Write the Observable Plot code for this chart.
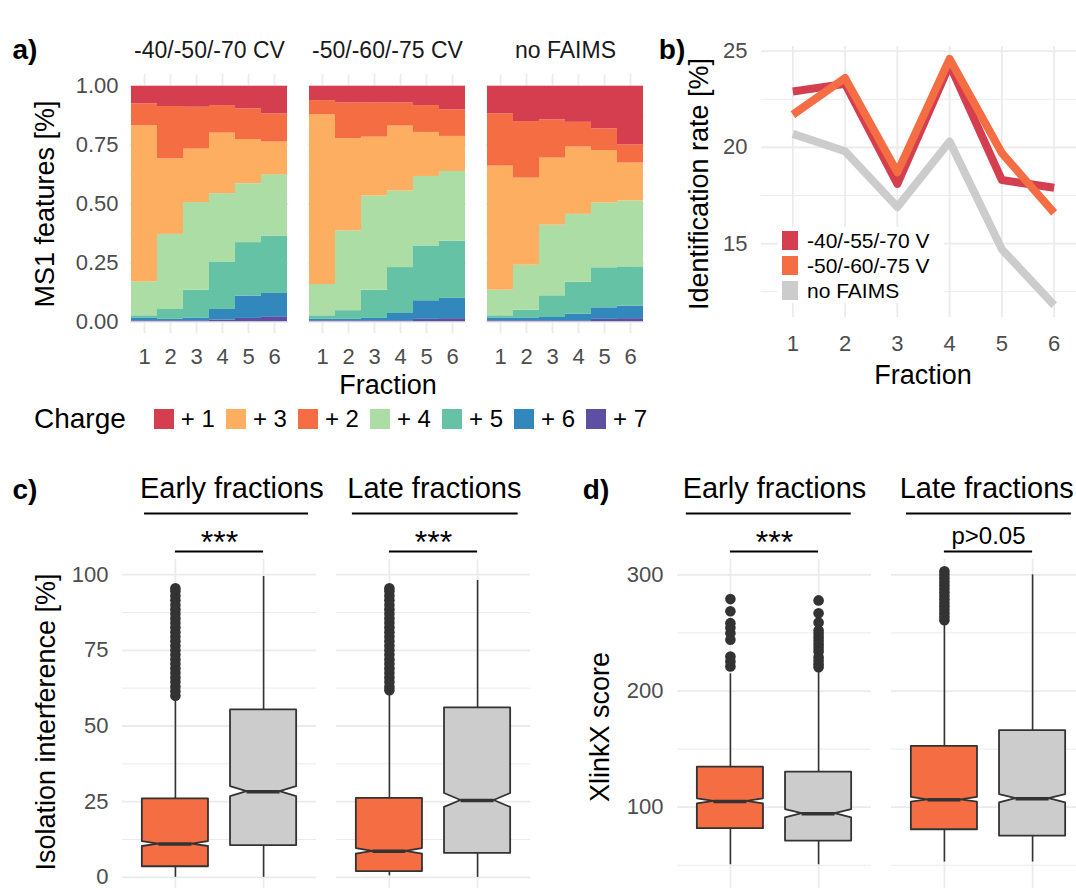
<!DOCTYPE html>
<html><head><meta charset="utf-8">
<script src="https://cdn.jsdelivr.net/npm/d3@7"></script>
<script src="https://cdn.jsdelivr.net/npm/@observablehq/plot@0.6"></script>
<style>
body{margin:0;background:#fff;}
#fig{position:relative;width:1076px;height:888px;overflow:hidden;background:#fff;font-family:"Liberation Sans",Arial,Helvetica,sans-serif;color:#000;}
.t{position:absolute;white-space:nowrap;line-height:1;}
</style></head><body><div id="fig"></div>
<script>
// ---------------- DATA ----------------
// a) share of MS1 features by charge state; rows = charge +1..+7, columns = fraction 1..6
const fractions = [1, 2, 3, 4, 5, 6];
const conditionsA = ["-40/-50/-70 CV", "-50/-60/-75 CV", "no FAIMS"];
const charges = ["+ 1", "+ 2", "+ 3", "+ 4", "+ 5", "+ 6", "+ 7"];
const chargeColors = ["#D53E4F", "#F46D43", "#FDAE61", "#ABDDA4", "#66C2A5", "#3288BD", "#5E4FA2"];
const legendOrderA = ["+ 1", "+ 3", "+ 2", "+ 4", "+ 5", "+ 6", "+ 7"];
const shareCV1 = [
  [0.075, 0.086, 0.089, 0.082, 0.096, 0.117],
  [0.092, 0.222, 0.178, 0.117, 0.131, 0.120],
  [0.664, 0.321, 0.227, 0.257, 0.187, 0.139],
  [0.144, 0.319, 0.372, 0.290, 0.250, 0.260],
  [0.011, 0.042, 0.118, 0.202, 0.227, 0.244],
  [0.010, 0.006, 0.012, 0.045, 0.095, 0.099],
  [0.004, 0.004, 0.004, 0.007, 0.014, 0.021]
];
const shareCV2 = [
  [0.061, 0.071, 0.071, 0.071, 0.082, 0.100],
  [0.059, 0.152, 0.145, 0.098, 0.114, 0.113],
  [0.722, 0.391, 0.250, 0.276, 0.187, 0.149],
  [0.133, 0.339, 0.400, 0.325, 0.295, 0.296],
  [0.015, 0.037, 0.120, 0.195, 0.233, 0.243],
  [0.006, 0.006, 0.010, 0.031, 0.079, 0.086],
  [0.004, 0.004, 0.004, 0.004, 0.010, 0.013]
];
const shareNoFAIMS = [
  [0.117, 0.150, 0.143, 0.153, 0.181, 0.249],
  [0.222, 0.240, 0.162, 0.105, 0.092, 0.077],
  [0.527, 0.370, 0.285, 0.286, 0.223, 0.161],
  [0.109, 0.191, 0.300, 0.288, 0.275, 0.280],
  [0.011, 0.035, 0.092, 0.136, 0.170, 0.167],
  [0.010, 0.010, 0.014, 0.028, 0.049, 0.053],
  [0.004, 0.004, 0.004, 0.004, 0.010, 0.013]
];
const yTicksA = [0, 0.25, 0.5, 0.75, 1];

// b) identification rate [%]
const seriesB = ["-40/-55/-70 V", "-50/-60/-75 V", "no FAIMS"];
const colorsB = ["#D53E4F", "#F46D43", "#CCCCCC"];
const rateCV1 = [22.9, 23.3, 18.1, 24.3, 18.3, 17.9];
const rateCV2 = [21.7, 23.6, 18.7, 24.6, 19.7, 16.6];
const rateNoFAIMS = [20.7, 19.8, 16.9, 20.3, 14.7, 11.8];
const yTicksB = [15, 20, 25];

// c) / d) box plots
const boxFacets = ["Early fractions", "Early fractions", "Late fractions", "Late fractions"];
const boxSetups = ["FAIMS", "no FAIMS", "FAIMS", "no FAIMS"];
const stripLabels = ["Early fractions", "Late fractions"];
// c) Isolation interference [%]
const isoLow   = [0, 0, 0.5, 0];
const isoQ1    = [3.5, 10.5, 1.9, 7.9];
const isoMed   = [11.0, 28.3, 8.6, 25.4];
const isoQ3    = [25.9, 55.3, 26.1, 56.0];
const isoHigh  = [59.0, 99.4, 61.2, 98.1];
const isoNotch = [0.8, 1.65, 0.9, 2.3];
const isoOutEarlyFAIMS = [60, 61.5, 63, 64.5, 66, 67.5, 69, 70.5, 72, 73.5, 75, 76.5, 78, 79.5, 81, 82.5, 84, 85.5, 87, 88.5, 90, 91.5, 93, 94.5, 95.5];
const isoOutLateFAIMS  = [61.8, 63, 64.5, 66, 67.5, 69, 70.5, 72, 73.5, 75, 76.5, 78, 79.5, 81, 82.5, 84, 85.5, 87, 88.5, 90, 91.5, 93, 94.5, 95.5];
const isoSignif = ["***", "***"];
const yTicksC = [0, 25, 50, 75, 100];
const yMinorC = [12.5, 37.5, 62.5, 87.5];
// d) XlinkX score
const xlLow   = [50.5, 50.5, 52.8, 52.8];
const xlQ1    = [81.5, 70.9, 80.6, 75.2];
const xlMed   = [105.0, 94.4, 106.4, 107.3];
const xlQ3    = [134.5, 130.2, 152.3, 166.0];
const xlHigh  = [214.8, 216.0, 259.0, 300.0];
const xlNotch = [2.2, 3.6, 2.0, 3.6];
const xlOutEarlyFAIMS   = [279.1, 268.7, 258.4, 254.4, 249.8, 244.1, 229.7, 225.4, 221.1];
const xlOutEarlyNoFAIMS = [278, 267, 259, 252, 249, 246, 243, 240, 237, 234, 229, 226, 223, 220.5];
const xlOutLateFAIMS    = [303, 300, 297, 294, 291, 288, 285, 282, 279, 276, 273, 270, 267, 264, 261];
const xlSignif = ["***", "p>0.05"];
const yTicksD = [100, 200, 300];
const yMinorD = [50, 150, 250];

// ---------------- HELPERS ----------------
const FONT = '"Liberation Sans", Arial, Helvetica, sans-serif';
const fig = document.getElementById("fig");
function place(node, left, top, w, h) {
  const d = document.createElement("div");
  d.style.cssText = `position:absolute;left:${left}px;top:${top}px;width:${w}px;height:${h}px;`;
  d.appendChild(node); fig.appendChild(d);
}
function label(text, x, y, size, opts = {}) {
  const d = document.createElement("div");
  d.className = "t";
  d.textContent = text;
  d.style.left = x + "px"; d.style.top = y + "px"; d.style.fontSize = size + "px";
  d.style.transform = opts.rotate ? "translate(-50%,-50%) rotate(-90deg)" : "translate(-50%,-50%)";
  if (opts.bold) d.style.fontWeight = "bold";
  fig.appendChild(d);
}
const svgStyle = {fontFamily: FONT, fontSize: "22px", color: "#4D4D4D", background: "transparent", maxWidth: "none", overflow: "visible"};
const GRID = "#EBEBEB";

// ---------------- PANEL a ----------------
const sharesA = [shareCV1, shareCV2, shareNoFAIMS];
const tableA = [];
conditionsA.forEach((cond, ci) => {
  for (let j = charges.length - 1; j >= 0; j--) {
    fractions.forEach((f, k) => tableA.push({condition: cond, charge: charges[j], fraction: f, share: sharesA[ci][j][k]}));
  }
});
const plotA = Plot.plot({
  width: 660, height: 400,
  marginLeft: 130, marginRight: 15, marginTop: 74, marginBottom: 67,
  style: svgStyle,
  fx: {domain: conditionsA, paddingInner: 0.112, paddingOuter: 0, label: null},
  x: {type: "band", domain: fractions, padding: 0, label: null},
  y: {domain: [-0.05, 1.05], label: null},
  color: {domain: charges, range: chargeColors},
  marks: [
    Plot.gridY([0.125, 0.375, 0.625, 0.875], {stroke: GRID, strokeOpacity: 1, strokeWidth: 1}),
    Plot.gridY(yTicksA, {stroke: GRID, strokeOpacity: 1, strokeWidth: 1.8}),
    Plot.gridX(fractions, {stroke: GRID, strokeOpacity: 1, strokeWidth: 1.8}),
    Plot.barY(tableA, {fx: "condition", x: "fraction", y: "share", fill: "charge"}),
    Plot.axisY({ticks: yTicksA, tickFormat: d3.format(".2f"), tickSize: 0, tickPadding: 12, label: null}),
    Plot.axisX({tickSize: 0, tickPadding: 15, label: null}),
    Plot.axisFx({anchor: "top", tickSize: 0, tickPadding: 17, fontSize: 23, color: "#1A1A1A", label: null})
  ]
});
place(plotA, 0, 0, 660, 400);
label("a)", 25, 50, 28, {bold: true});
label("MS1 features [%]", 45, 204, 27, {rotate: true});
label("Fraction", 388, 385, 27);
// legend a
const legA = document.createElement("div");
legA.style.cssText = "position:absolute;left:34px;top:419px;transform:translateY(-50%);display:flex;align-items:center;white-space:nowrap;line-height:1;";
const legTitle = document.createElement("span");
legTitle.textContent = "Charge"; legTitle.style.cssText = "font-size:28px;margin-right:28px;";
legA.appendChild(legTitle);
legendOrderA.forEach(c => {
  const sw = document.createElement("span");
  sw.style.cssText = `display:inline-block;width:20px;height:20px;background:${chargeColors[charges.indexOf(c)]};margin-right:7px;`;
  const tx = document.createElement("span");
  tx.textContent = c; tx.style.cssText = "font-size:24px;margin-right:11px;";
  legA.appendChild(sw); legA.appendChild(tx);
});
fig.appendChild(legA);

// ---------------- PANEL b ----------------
const ratesB = [rateCV1, rateCV2, rateNoFAIMS];
const plotB = Plot.plot({
  width: 445, height: 400,
  marginLeft: 121, marginRight: 0, marginTop: 46, marginBottom: 83,
  style: svgStyle,
  x: {domain: [0.4, 6.6], label: null},
  y: {domain: [11.16, 25.24], label: null},
  marks: [
    Plot.gridY([12.5, 17.5, 22.5], {stroke: GRID, strokeOpacity: 1, strokeWidth: 1}),
    Plot.gridY(yTicksB, {stroke: GRID, strokeOpacity: 1, strokeWidth: 1.8}),
    Plot.gridX(fractions, {stroke: GRID, strokeOpacity: 1, strokeWidth: 1.8}),
    ...ratesB.map((r, i) => Plot.lineY(fractions.map((f, k) => ({fraction: f, rate: r[k]})),
      {x: "fraction", y: "rate", stroke: colorsB[i], strokeWidth: 8, strokeLinejoin: "round", strokeLinecap: "butt"})),
    Plot.axisY({ticks: yTicksB, tickFormat: d3.format("d"), tickSize: 0, tickPadding: 14, label: null}),
    Plot.axisX({ticks: fractions, tickFormat: d3.format("d"), tickSize: 0, tickPadding: 18, label: null})
  ]
});
place(plotB, 640, 0, 445, 400);
label("b)", 672, 50, 28, {bold: true});
label("Identification rate [%]", 699, 184, 27, {rotate: true});
label("Fraction", 923, 375, 27);
// legend b
const legB = document.createElement("div");
legB.style.cssText = "position:absolute;left:778px;top:227px;width:166px;height:76px;background:#fff;";
seriesB.forEach((s, i) => {
  const row = document.createElement("div");
  row.style.cssText = `position:absolute;left:4px;top:${3 + i * 25}px;height:20px;display:flex;align-items:center;white-space:nowrap;line-height:1;`;
  const sw = document.createElement("span");
  sw.style.cssText = `display:inline-block;width:16px;height:19px;background:${colorsB[i]};margin-right:9px;`;
  const tx = document.createElement("span");
  tx.textContent = s; tx.style.cssText = "font-size:21px;";
  row.appendChild(sw); row.appendChild(tx); legB.appendChild(row);
});
fig.appendChild(legB);

// ---------------- PANELS c, d ----------------
const setupPos = {"FAIMS": 1, "no FAIMS": 2};
const setupFill = {"FAIMS": "#F46D43", "no FAIMS": "#CCCCCC"};
function boxPlot(cfg) {
  const W = 0.375;
  const stats = boxFacets.map((f, i) => ({
    facet: f, setup: boxSetups[i], pos: setupPos[boxSetups[i]],
    lo: cfg.lo[i], q1: cfg.q1[i], med: cfg.med[i], q3: cfg.q3[i], hi: cfg.hi[i], n: cfg.notch[i]
  }));
  const poly = stats.flatMap((s, i) => [
    {k: i, facet: s.facet, setup: s.setup, y: s.q1, x1: s.pos - W, x2: s.pos + W},
    {k: i, facet: s.facet, setup: s.setup, y: s.med - s.n, x1: s.pos - W, x2: s.pos + W},
    {k: i, facet: s.facet, setup: s.setup, y: s.med, x1: s.pos - W / 2, x2: s.pos + W / 2},
    {k: i, facet: s.facet, setup: s.setup, y: s.med + s.n, x1: s.pos - W, x2: s.pos + W},
    {k: i, facet: s.facet, setup: s.setup, y: s.q3, x1: s.pos - W, x2: s.pos + W}
  ]);
  const outs = cfg.outliers.flatMap(o => o.values.map(v => ({facet: o.facet, pos: setupPos[o.setup], v})));
  const sig = stripLabels.map((f, i) => ({facet: f, text: cfg.signif[i], a: 1, b: 2}));
  const stars = sig.filter(d => d.text === "***");
  const pvals = sig.filter(d => d.text !== "***");
  // strip layout (text centre and underline extent, in panel x units)
  const strips = stripLabels.map((f, i) => ({facet: f, cx: cfg.stripAt[i][0], from: cfg.stripAt[i][1], to: cfg.stripAt[i][2]}));
  const yTop = cfg.yDomain[1];
  const ink = "#333333";
  return Plot.plot({
    width: cfg.width, height: 430,
    marginLeft: cfg.mL, marginRight: cfg.mR, marginTop: 89, marginBottom: 8,
    style: svgStyle,
    fx: {domain: stripLabels, paddingInner: cfg.pad, paddingOuter: 0, axis: null},
    x: {domain: [0.4, 2.6], axis: null},
    y: {domain: cfg.yDomain, label: null},
    marks: [
      Plot.gridY(cfg.minor, {stroke: GRID, strokeOpacity: 1, strokeWidth: 1}),
      Plot.gridY(cfg.ticks, {stroke: GRID, strokeOpacity: 1, strokeWidth: 1.8}),
      Plot.gridX([1, 2], {stroke: GRID, strokeOpacity: 1, strokeWidth: 1.8}),
      Plot.ruleX(stats, {fx: "facet", x: "pos", y1: "lo", y2: "q1", stroke: ink, strokeWidth: 1.6}),
      Plot.ruleX(stats, {fx: "facet", x: "pos", y1: "q3", y2: "hi", stroke: ink, strokeWidth: 1.6}),
      Plot.dot(outs, {fx: "facet", x: "pos", y: "v", r: 5.3, fill: ink, stroke: "none"}),
      ...["FAIMS", "no FAIMS"].map(su => Plot.areaX(poly.filter(d => d.setup === su),
        {fx: "facet", y: "y", x1: "x1", x2: "x2", z: "k", fill: setupFill[su], stroke: ink, strokeWidth: 1.8})),
      Plot.ruleY(stats, {fx: "facet", y: "med", x1: d => d.pos - W / 2, x2: d => d.pos + W / 2, stroke: ink, strokeWidth: 3.5}),
      Plot.axisY({ticks: cfg.ticks, tickSize: 0, tickPadding: 14, label: null}),
      // significance brackets
      Plot.ruleY(sig, {fx: "facet", y: yTop, x1: "a", x2: "b", dy: -8, stroke: "#000", strokeWidth: 2}),
      Plot.text(stars, {fx: "facet", x: 1.5, y: yTop, text: "text", dy: -7, lineAnchor: "bottom", fontSize: 32, fill: "#000"}),
      Plot.text(pvals, {fx: "facet", x: 1.5, y: yTop, text: "text", dy: -16, lineAnchor: "bottom", fontSize: 24, fill: "#000"}),
      // strip labels with underline
      Plot.text(strips, {fx: "facet", x: "cx", y: yTop, text: "facet", dy: -71, lineAnchor: "middle", fontSize: 29, fill: "#000"}),
      Plot.ruleY(strips, {fx: "facet", y: yTop, x1: "from", x2: "to", dy: -46, stroke: "#000", strokeWidth: 2})
    ]
  });
}
const plotC = boxPlot({
  width: 540, mL: 121, mR: 9, pad: 0.093,
  yDomain: [-5, 105], ticks: yTicksC, minor: yMinorC,
  lo: isoLow, q1: isoQ1, med: isoMed, q3: isoQ3, hi: isoHigh, notch: isoNotch,
  outliers: [{facet: "Early fractions", setup: "FAIMS", values: isoOutEarlyFAIMS},
             {facet: "Late fractions", setup: "FAIMS", values: isoOutLateFAIMS}],
  signif: isoSignif, stripAt: [[1.64, 0.65, 2.51], [1.51, 0.58, 2.46]]
});
place(plotC, 0, 470, 540, 430);
const plotD = boxPlot({
  width: 526, mL: 116, mR: 0, pad: 0.093,
  yDomain: [26.6, 313.2], ticks: yTicksD, minor: yMinorD,
  lo: xlLow, q1: xlQ1, med: xlMed, q3: xlQ3, hi: xlHigh, notch: xlNotch,
  outliers: [{facet: "Early fractions", setup: "FAIMS", values: xlOutEarlyFAIMS},
             {facet: "Early fractions", setup: "no FAIMS", values: xlOutEarlyNoFAIMS},
             {facet: "Late fractions", setup: "FAIMS", values: xlOutLateFAIMS}],
  signif: xlSignif, stripAt: [[1.5, 0.5, 2.37], [1.48, 0.57, 2.44]]
});
place(plotD, 560, 470, 526, 430);
label("c)", 25, 490, 28, {bold: true});
label("d)", 596, 490, 28, {bold: true});
label("Isolation interference [%]", 46, 722, 27, {rotate: true});
label("XlinkX score", 600, 727, 27, {rotate: true});
</script></body></html>
